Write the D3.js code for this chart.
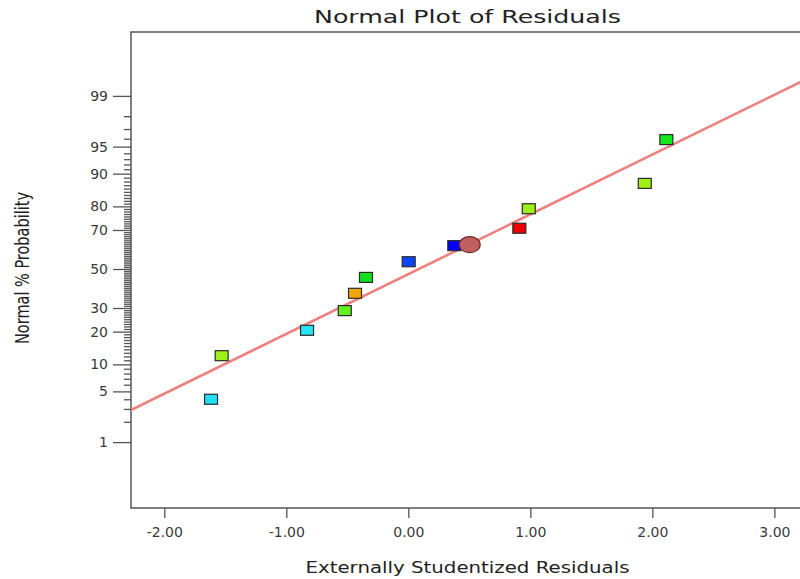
<!DOCTYPE html>
<html lang="en">
<head>
<meta charset="UTF-8">
<title>Normal Plot of Residuals</title>
<script src="https://cdn.jsdelivr.net/npm/d3@7.9.0/dist/d3.min.js"></script>
<style>
    body { margin: 0; background: #fff; }
    svg { display: block; }
    .tick text { font-family: "DejaVu Sans", Verdana, sans-serif; font-size: 14px; fill: #3a3a3a; }
    .tick line { stroke: #555; stroke-width: 1.3px; }
    .domain { display: none; }
</style>
</head>
<body>
<svg id="chart" width="800" height="579"></svg>
<script>
// --- data ---
const residuals = [-1.617, -1.530, -0.830, -0.521, -0.437, -0.347, 0.003, 0.377, 0.910, 0.987, 1.938, 2.115];
const probabilities = [4.0, 12.2, 20.5, 28.8, 37.2, 45.5, 53.9, 62.3, 70.8, 79.1, 87.5, 95.9];
const pointColors = ["#1fe0f2", "#9ef01a", "#22e6f4", "#62f01e", "#f5a500", "#10e01c",
                     "#0a46ff", "#0000ff", "#f00000", "#9ef01a", "#9ef01a", "#12e81e"];
const highlightR = [0.503];
const highlightP = [62.8];
const fitLineR = [-2.273, 3.243];
const fitLineP = [2.9, 99.44];
const xTicks = [-2, -1, 0, 1, 2, 3];
const yMajor = [1, 5, 10, 20, 30, 50, 70, 80, 90, 95, 99];
const yMinor = d3.range(1, 100).filter(v => !yMajor.includes(v));

// inverse normal cdf (Acklam)
function probit(p) {
    const a = [-39.69683028665376, 220.9460984245205, -275.9285104469687, 138.3577518672690, -30.66479806614716, 2.506628277459239];
    const b = [-54.47609879822406, 161.5858368580409, -155.6989798598866, 66.80131188771972, -13.28068155288572];
    const c = [-0.007784894002430293, -0.3223964580411365, -2.400758277161838, -2.549732539343734, 4.374664141464968, 2.938163982698783];
    const d = [0.007784695709041462, 0.3224671290700398, 2.445134137142996, 3.754408661907416];
    const pl = 0.02425;
    let q, r;
    if (p < pl) {
        q = Math.sqrt(-2 * Math.log(p));
        return (((((c[0]*q+c[1])*q+c[2])*q+c[3])*q+c[4])*q+c[5]) / ((((d[0]*q+d[1])*q+d[2])*q+d[3])*q+1);
    } else if (p <= 1 - pl) {
        q = p - 0.5; r = q * q;
        return (((((a[0]*r+a[1])*r+a[2])*r+a[3])*r+a[4])*r+a[5])*q / (((((b[0]*r+b[1])*r+b[2])*r+b[3])*r+b[4])*r+1);
    } else {
        q = Math.sqrt(-2 * Math.log(1 - p));
        return -(((((c[0]*q+c[1])*q+c[2])*q+c[3])*q+c[4])*q+c[5]) / ((((d[0]*q+d[1])*q+d[2])*q+d[3])*q+1);
    }
}
const pz = p => probit(p / 100);

const svg = d3.select("#chart");
const plotLeft = 131, plotRight = 804, plotTop = 32, plotBottom = 508;

const x = d3.scaleLinear().domain([-2.273, 3.243]).range([plotLeft, plotRight]);
const y = d3.scaleLinear().domain([-3.212, 3.185]).range([plotBottom, plotTop]);

// frame
svg.append("rect")
    .attr("x", plotLeft).attr("y", plotTop)
    .attr("width", plotRight - plotLeft).attr("height", plotBottom - plotTop)
    .attr("fill", "none").attr("stroke", "#555").attr("stroke-width", 1.5);

// x axis (plain hyphen for the minus sign, as in the original)
const fmt2 = d3.format(".2f");
svg.append("g")
    .attr("transform", `translate(0,${plotBottom})`)
    .call(d3.axisBottom(x).tickValues(xTicks).tickSize(10).tickPadding(9)
        .tickFormat(d => fmt2(d).replace("\u2212", "-")));

// y axis minor + major
svg.append("g")
    .attr("transform", `translate(${plotLeft},0)`)
    .call(d3.axisLeft(y).tickValues(yMinor.map(pz)).tickSize(7).tickFormat(""));
svg.append("g")
    .attr("transform", `translate(${plotLeft},0)`)
    .call(d3.axisLeft(y).tickValues(yMajor.map(pz)).tickSize(18).tickPadding(5)
        .tickFormat((d, i) => yMajor[i]));

// fitted line
const clipId = "plot-clip";
svg.append("clipPath").attr("id", clipId)
    .append("rect").attr("x", plotLeft).attr("y", plotTop)
    .attr("width", plotRight - plotLeft).attr("height", plotBottom - plotTop);
svg.append("line")
    .attr("clip-path", `url(#${clipId})`)
    .attr("x1", x(fitLineR[0])).attr("y1", y(pz(fitLineP[0])))
    .attr("x2", x(fitLineR[1])).attr("y2", y(pz(fitLineP[1])))
    .attr("stroke", "#ef8080").attr("stroke-width", 2.6);

// points
const pts = residuals.map((r, i) => ({ r, p: probabilities[i], c: pointColors[i] }));
const sw = 13, sh = 10;
svg.append("g").selectAll("rect")
    .data(pts)
    .join("rect")
    .attr("x", d => x(d.r) - sw / 2)
    .attr("y", d => y(pz(d.p)) - sh / 2)
    .attr("width", sw).attr("height", sh)
    .attr("fill", d => d.c)
    .attr("stroke", "#2b2b2b").attr("stroke-width", 1.2);

// highlighted run
svg.append("g").selectAll("ellipse")
    .data(highlightR.map((r, i) => ({ r, p: highlightP[i] })))
    .join("ellipse")
    .attr("cx", d => x(d.r)).attr("cy", d => y(pz(d.p)))
    .attr("rx", 10.5).attr("ry", 8)
    .attr("fill", "#c0605f").attr("stroke", "#6e2a2a").attr("stroke-width", 1.2);

// titles
svg.append("text")
    .attr("x", (plotLeft + plotRight) / 2).attr("y", 23)
    .attr("text-anchor", "middle")
    .attr("textLength", 307).attr("lengthAdjust", "spacingAndGlyphs")
    .style("font-family", "'DejaVu Sans', Verdana, sans-serif").style("font-size", "18px").style("fill", "#222")
    .text("Normal Plot of Residuals");

svg.append("text")
    .attr("x", (plotLeft + plotRight) / 2).attr("y", 573)
    .attr("text-anchor", "middle")
    .attr("textLength", 324).attr("lengthAdjust", "spacingAndGlyphs")
    .style("font-family", "'DejaVu Sans', Verdana, sans-serif").style("font-size", "16px").style("fill", "#222")
    .text("Externally Studentized Residuals");

svg.append("text")
    .attr("transform", `translate(29,268) rotate(-90)`)
    .attr("text-anchor", "middle")
    .attr("textLength", 152).attr("lengthAdjust", "spacingAndGlyphs")
    .style("font-family", "'Liberation Sans Narrow', 'DejaVu Sans Condensed', Arial, sans-serif")
    .style("font-size", "20px").style("fill", "#222")
    .text("Normal % Probability");
</script>
</body>
</html>
